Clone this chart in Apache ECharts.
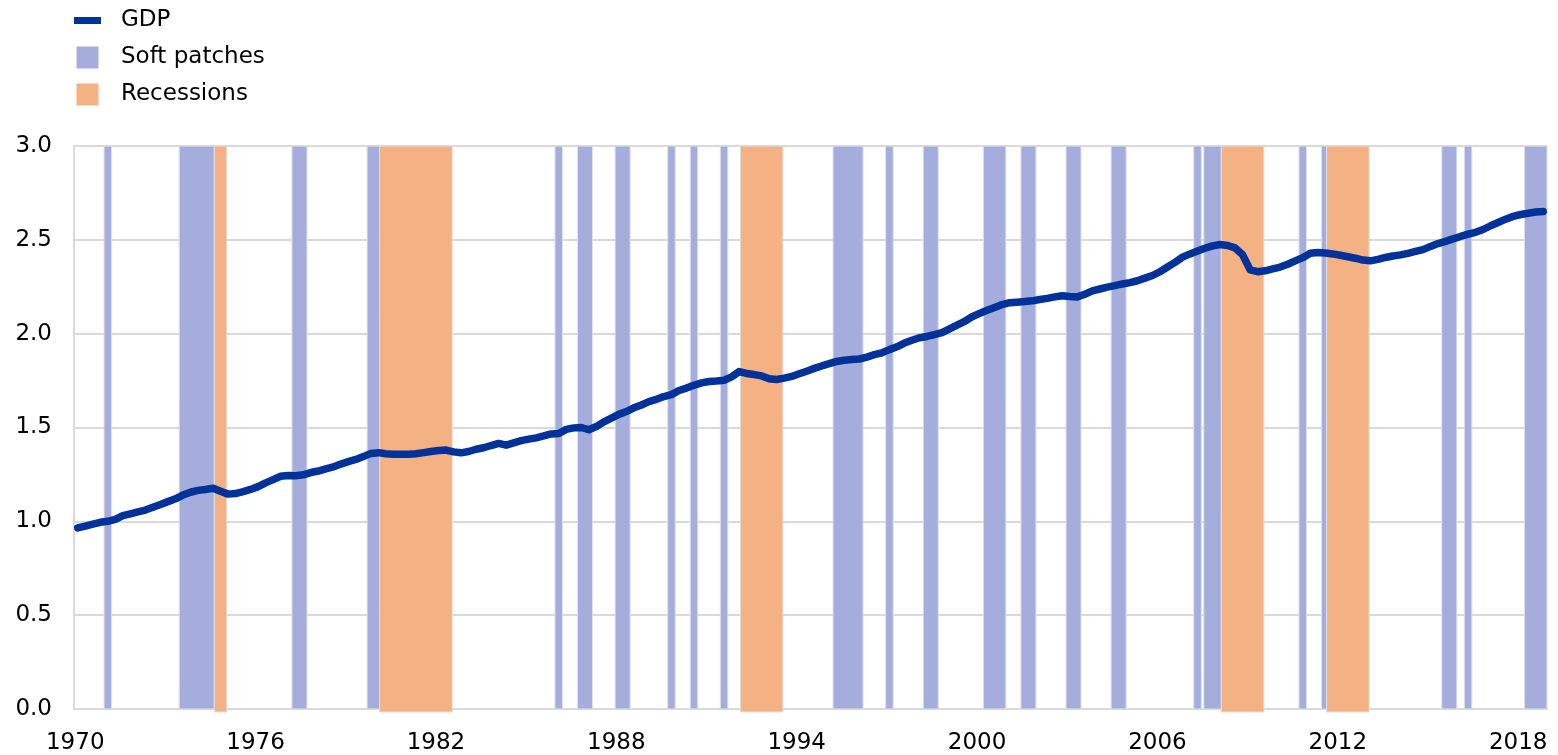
<!DOCTYPE html>
<html>
<head>
<meta charset="utf-8">
<script src="https://cdn.jsdelivr.net/npm/echarts@6/dist/echarts.min.js"></script>
<style>
  html, body { margin: 0; padding: 0; background: #fff; }
  #chart { width: 1558px; height: 755px; }
</style>
</head>
<body>
<div id="chart"></div>
<script>
// x-axis labels shown (every six years)
const tickYears = ["1970", "1976", "1982", "1988", "1994", "2000", "2006", "2012", "2018"];

// GDP, quarterly, 1970Q1 - 2018Q4
const gdp = [
  0.965, 0.975, 0.985, 0.995,
  1.000, 1.010, 1.030, 1.040,
  1.050, 1.060, 1.075, 1.090,
  1.105, 1.120, 1.140, 1.155,
  1.165, 1.170, 1.176, 1.160,
  1.145, 1.148, 1.158, 1.170,
  1.185, 1.205, 1.222, 1.240,
  1.244, 1.243, 1.248, 1.260,
  1.268, 1.280, 1.290, 1.305,
  1.318, 1.330, 1.345, 1.362,
  1.366, 1.360, 1.358, 1.357,
  1.357, 1.360, 1.366, 1.372,
  1.377, 1.380, 1.370, 1.365,
  1.372, 1.384, 1.392, 1.404,
  1.415, 1.406, 1.418, 1.430,
  1.438, 1.445, 1.455, 1.466,
  1.468, 1.490, 1.498, 1.500,
  1.488, 1.505, 1.530, 1.550,
  1.570, 1.585, 1.605, 1.620,
  1.638, 1.650, 1.665, 1.675,
  1.697, 1.710, 1.725, 1.738,
  1.745, 1.748, 1.752, 1.770,
  1.798, 1.788, 1.782, 1.775,
  1.760, 1.756, 1.763, 1.772,
  1.786, 1.800, 1.815, 1.828,
  1.840, 1.852, 1.858, 1.862,
  1.865, 1.875, 1.888, 1.898,
  1.915, 1.930, 1.950, 1.965,
  1.978, 1.985, 1.995, 2.005,
  2.025, 2.045, 2.065, 2.090,
  2.108, 2.125, 2.140, 2.155,
  2.165, 2.168, 2.171, 2.175,
  2.182, 2.188, 2.196, 2.202,
  2.198, 2.196, 2.210, 2.228,
  2.238, 2.248, 2.256, 2.265,
  2.272, 2.282, 2.296, 2.310,
  2.330, 2.355, 2.380, 2.408,
  2.425, 2.440, 2.455, 2.468,
  2.475, 2.470, 2.457, 2.420,
  2.340, 2.330, 2.335, 2.345,
  2.355, 2.370, 2.388, 2.405,
  2.428, 2.432, 2.430, 2.425,
  2.418, 2.410, 2.402, 2.392,
  2.388, 2.396, 2.406, 2.414,
  2.420, 2.428, 2.438, 2.448,
  2.465, 2.480, 2.492, 2.505,
  2.518, 2.530, 2.540, 2.555,
  2.575, 2.592, 2.610, 2.625,
  2.635, 2.642, 2.648, 2.651
];

// shaded periods, first and last month
const softPatches = [
  ["1971-01", "1971-03"], ["1973-07", "1974-08"], ["1977-04", "1977-09"], ["1979-10", "1980-02"],
  ["1986-01", "1986-03"], ["1986-10", "1987-03"], ["1988-01", "1988-06"], ["1989-10", "1989-12"],
  ["1990-07", "1990-09"], ["1991-07", "1991-09"], ["1995-04", "1996-03"], ["1997-01", "1997-03"],
  ["1998-04", "1998-09"], ["2000-04", "2000-12"], ["2001-07", "2001-12"], ["2003-01", "2003-06"],
  ["2004-07", "2004-12"], ["2007-04", "2007-06"], ["2007-08", "2008-02"], ["2010-10", "2010-12"],
  ["2011-07", "2011-08"], ["2015-07", "2015-12"], ["2016-04", "2016-06"], ["2018-04", "2018-12"]
];
const recessions = [
  ["1974-09", "1975-01"], ["1980-03", "1982-07"], ["1992-03", "1993-07"],
  ["2008-03", "2009-07"], ["2011-09", "2013-01"]
];
const bandTop = 3.0;

const months = [];
const quarters = [];
for (let y = 1970; y <= 2018; y++) {
  for (let m = 1; m <= 12; m++) months.push(`${y}-${String(m).padStart(2, "0")}`);
  for (let q = 1; q <= 4; q++) quarters.push(`${y}Q${q}`);
}

const FONT = "'DejaVu Sans', 'Liberation Sans', Arial, sans-serif";
const GRID_GREY = "#d9d9d9";

function bandData(ranges) {
  return ranges.map(([a, b]) => [months.indexOf(a), months.indexOf(b), bandTop]);
}

function renderBand(drop) {
  return (params, api) => {
    const top = api.coord([api.value(0), api.value(2)]);
    const end = api.coord([api.value(1), 0]);
    const w = api.size([1, 0])[0];
    return {
      type: "rect",
      shape: { x: top[0] - w / 2, y: top[1], width: end[0] - top[0] + w, height: end[1] - top[1] + drop },
      style: { fill: api.visual("color"), stroke: "#e0e0e6", lineWidth: 1 }
    };
  };
}

const chart = echarts.init(document.getElementById("chart"));
chart.setOption({
  animation: false,
  textStyle: { fontFamily: FONT },
  legend: {
    orient: "vertical",
    left: 74,
    top: 9,
    padding: 0,
    itemWidth: 27,
    itemHeight: 22,
    itemGap: 14,
    selectedMode: false,
    textStyle: { fontFamily: FONT, fontSize: 23, color: "#000", padding: [0, 0, 0, 15] },
    data: [
      { name: "GDP", icon: "path://M0,0h27v7h-27z" },
      { name: "Soft patches", icon: "path://M0,0h10v10h-10z" },
      { name: "Recessions", icon: "path://M0,0h10v10h-10z" }
    ]
  },
  grid: { left: 74, right: 11, top: 146, bottom: 43, containLabel: false },
  xAxis: [
    {
      type: "category",
      data: months,
      boundaryGap: true,
      axisLine: { lineStyle: { color: GRID_GREY, width: 2 } },
      axisTick: { show: false },
      splitLine: { show: false },
      axisLabel: {
        interval: (idx, val) => val.endsWith("-01") && tickYears.includes(val.slice(0, 4)),
        formatter: val => val.slice(0, 4),
        fontFamily: FONT, fontSize: 23, color: "#000", margin: 23
      }
    },
    { type: "category", data: quarters, boundaryGap: true, show: false }
  ],
  yAxis: {
    type: "value",
    min: 0,
    max: 3,
    interval: 0.5,
    axisLine: { show: true, lineStyle: { color: GRID_GREY, width: 2 } },
    axisTick: { show: false },
    splitLine: { lineStyle: { color: GRID_GREY, width: 2 } },
    axisLabel: { formatter: v => v.toFixed(1), fontFamily: FONT, fontSize: 23, color: "#000", margin: 22 }
  },
  series: [
    {
      name: "GDP",
      type: "line",
      xAxisIndex: 1,
      data: gdp,
      symbol: "none",
      z: 10,
      itemStyle: { color: "#003299" },
      lineStyle: { color: "#003299", width: 7.5, join: "round", cap: "round" }
    },
    {
      name: "Soft patches",
      type: "custom",
      xAxisIndex: 0,
      data: bandData(softPatches),
      encode: { x: [0, 1], y: 2 },
      itemStyle: { color: "#a5addc" },
      renderItem: renderBand(0),
      z: 2
    },
    {
      name: "Recessions",
      type: "custom",
      xAxisIndex: 0,
      data: bandData(recessions),
      encode: { x: [0, 1], y: 2 },
      itemStyle: { color: "#f4b183" },
      renderItem: renderBand(3),
      z: 3
    }
  ]
});
</script>
</body>
</html>
